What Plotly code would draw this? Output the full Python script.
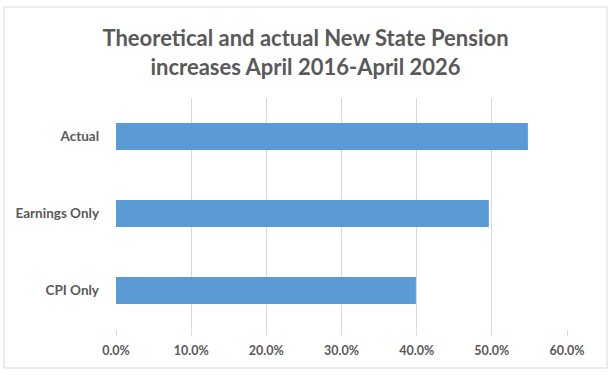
import plotly.graph_objects as go

categories = ["CPI Only", "Earnings Only", "Actual"]
values = [0.399, 0.496, 0.548]
tick_vals = [0, 0.1, 0.2, 0.3, 0.4, 0.5, 0.6]
tick_text = ["0.0%", "10.0%", "20.0%", "30.0%", "40.0%", "50.0%", "60.0%"]

text_color = "#595959"
font_family = "Lato, 'Open Sans', sans-serif"

fig = go.Figure(go.Bar(
    x=values, y=categories, orientation="h",
    marker=dict(color="#5B9BD5", line=dict(width=0)),
))

W, H = 611, 375
L, R, T, B = 116, 44, 98, 46
pw, ph = W - L - R, H - T - B

def px_x(x):
    return (x - L) / pw

def px_y(y):
    return (H - B - y) / ph

fig.update_layout(
    width=W, height=H,
    margin=dict(l=L, r=R, t=T, b=B),
    paper_bgcolor="white", plot_bgcolor="white",
    bargap=0.65,
    showlegend=False,
    font=dict(family=font_family, color=text_color),
    title=dict(
        text="<b>Theoretical and actual New State Pension<br>increases April 2016-April 2026</b>",
        x=0.5, xref="container", xanchor="center",
        y=1 - 46 / H, yref="container", yanchor="middle",
        font=dict(size=22, color=text_color, family=font_family),
    ),
    xaxis=dict(
        range=[0, 0.6], tickvals=tick_vals, ticktext=tick_text,
        showgrid=True, gridcolor="#D9D9D9", gridwidth=1,
        zeroline=False, showline=False,
        ticks="outside", ticklen=6, tickcolor="#D9D9D9",
        ticklabelstandoff=4,
        tickfont=dict(size=12.5, color=text_color, family=font_family, weight="bold"),
        fixedrange=True,
    ),
    yaxis=dict(
        showgrid=False, zeroline=False, showline=False,
        ticks="", ticklabelstandoff=16,
        tickfont=dict(size=13.5, color=text_color, family=font_family, weight="bold"),
        fixedrange=True,
    ),
    shapes=[dict(
        type="rect", xref="paper", yref="paper",
        x0=px_x(4), x1=px_x(607), y0=px_y(368), y1=px_y(7),
        line=dict(color="#D9D9D9", width=1), fillcolor="rgba(0,0,0,0)",
        layer="below",
    )],
)

fig.write_html(
    "out.html",
    config={"displayModeBar": False},
    post_script="document.body.style.margin='0';document.body.style.overflow='hidden';",
)
